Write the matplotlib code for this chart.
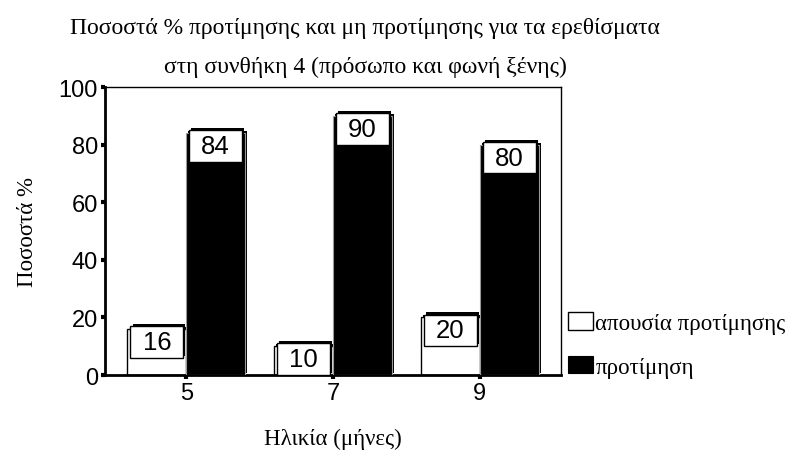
import numpy as np
import matplotlib.pyplot as plt
import matplotlib.patheffects as pe
from matplotlib.patches import Rectangle

ilikia = ['5', '7', '9']
apousia = [16, 10, 20]
protimisi = [84, 90, 80]
yticks = [0, 20, 40, 60, 80, 100]

serif = 'Liberation Serif'
sans = 'Liberation Sans'

fig = plt.figure(figsize=(7.92, 4.52), dpi=100)
ax = fig.add_axes([0.1326, 0.1681, 0.5758, 0.6372])

x = np.arange(len(ilikia))
w = 0.40
skia = [pe.SimplePatchShadow(offset=(1.5, 1.5), shadow_rgbFace='black', alpha=1), pe.Normal()]

b1 = ax.bar(x - w/2, apousia, w, color='white', edgecolor='black', linewidth=1,
            label='απουσία προτίμησης', zorder=2)
b2 = ax.bar(x + w/2, protimisi, w, color='black', edgecolor='#999999', linewidth=0.8,
            label='προτίμηση', zorder=3)

leg = ax.legend(loc='center left', bbox_to_anchor=(1.0, 0.104), frameon=False,
                prop={'family': serif, 'size': 16.5}, handlelength=1.1, handleheight=0.8,
                handletextpad=0.1, labelspacing=0.95, borderaxespad=0.0, borderpad=0.3)
leg.legend_handles[1].set_edgecolor('black')

for b in list(b1) + list(b2):
    b.set_path_effects(skia)

# κουτάκια με τις τιμές
kw = 0.36
kh = 11
for xs, vals in [(x - w/2, apousia), (x + w/2, protimisi)]:
    for xi, v in zip(xs, vals):
        r = Rectangle((xi - kw/2, v + 1 - kh), kw, kh, facecolor='white',
                      edgecolor='black', linewidth=1, zorder=4)
        r.set_path_effects(skia)
        ax.add_patch(r)
        ax.text(xi, v + 1 - kh/2, str(v), ha='center', va='center',
                fontsize=18.5, family=sans, zorder=5)

ax.set_xlim(-0.553, 2.553)
ax.set_ylim(0, 100)
ax.set_xticks(x)
ax.set_xticklabels(ilikia, fontsize=17, family=sans)
ax.set_yticks(yticks)
ax.set_yticklabels([str(t) for t in yticks], fontsize=17, family=sans)
ax.tick_params(axis='both', direction='out', length=3, width=3, pad=2)

for s in ['left', 'bottom']:
    ax.spines[s].set_linewidth(2)
for s in ['top', 'right']:
    ax.spines[s].set_linewidth(1)

ax.set_xlabel('Ηλικία (μήνες)', fontsize=16.5, family=serif, labelpad=17)
ax.set_ylabel('Ποσοστά %', fontsize=16.5, family=serif, labelpad=15)

fig.text(0.461, 0.938, 'Ποσοστά % προτίμησης και μη προτίμησης για τα ερεθίσματα',
         ha='center', va='center', fontsize=17, family=serif)
fig.text(0.461, 0.851, 'στη συνθήκη 4 (πρόσωπο και φωνή ξένης)',
         ha='center', va='center', fontsize=17, family=serif)

fig.savefig('out.png', dpi=100, facecolor='white')
